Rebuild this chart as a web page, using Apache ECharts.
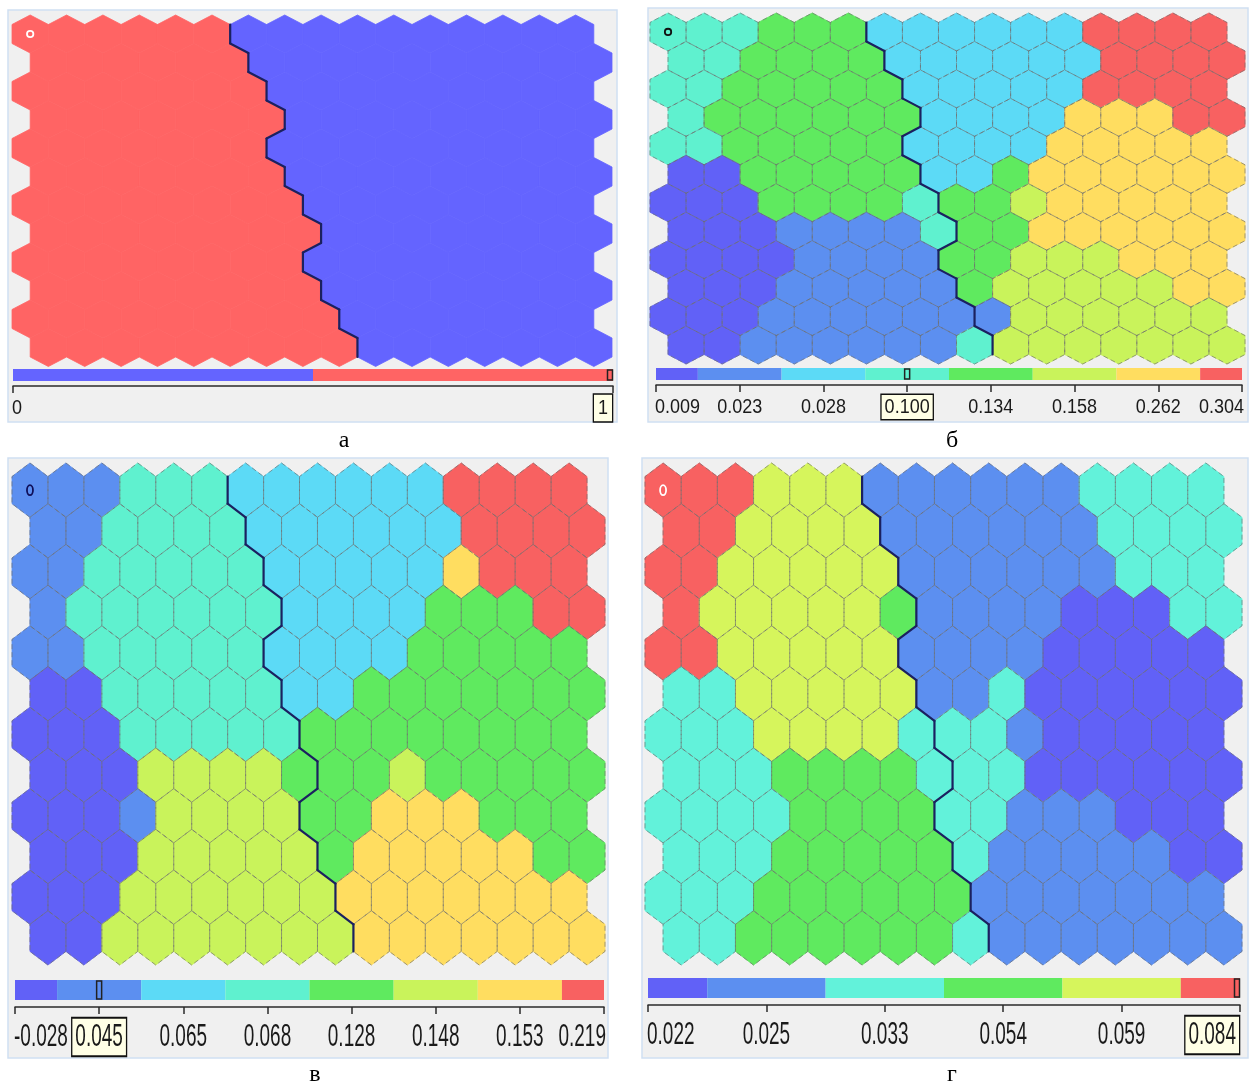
<!DOCTYPE html>
<html><head><meta charset="utf-8">
<script src="https://cdn.jsdelivr.net/npm/echarts@6/dist/echarts.min.js"></script>
<style>html,body{margin:0;padding:0;background:#fff}#c{width:1256px;height:1088px}</style>
</head><body><div id="c"></div><script>
// ---- DATA (12 rows x 16 columns, class index per hexagon) ----
const mapA = [
 "1111110000000000","1111110000000000","1111111000000000","1111111000000000",
 "1111111000000000","1111111000000000","1111111100000000","1111111100000000",
 "1111111100000000","1111111100000000","1111111110000000","1111111110000000"];
const mapB = [
 "3334442222227777","3344442222227777","3344444222227777","3444444222266677",
 "3344444222266666","0044444224666666","0004444344566666","0001111344666666",
 "0000111144555666","0001111145555566","0001111111555555","0011111135555555"];
const mapC = [
 "1113332222227777","1133332222227777","1133333222226777","1333333222244477",
 "1133333222244444","0033333224444444","0003333344444444","0005555444544444",
 "0001555544666444","0005555546666644","0005555556666666","0055555556666666"];
const mapD = [
 "5554441111112222","5544441111112222","5544444111111222","5444443111100022",
 "5544444111100000","2244444112000000","2224444222100000","2223333222000000",
 "2222333322111000","2223333321111100","2223333331111111","2233333321111111"];
const labelsA = ["0", "1"];
const labelsB = ["0.009","0.023","0.028","0.100","0.134","0.158","0.262","0.304"];
const labelsC = ["-0.028","0.045","0.065","0.068","0.128","0.148","0.153","0.219"];
const labelsD = ["0.022","0.025","0.033","0.054","0.059","0.084"];
const selA = 1, selB = 3, selC = 1, selD = 5;
const captions = ["а", "б", "в", "г"];

// ---- STYLE ----
const VIO='#6161f7', BLU='#5c8ff0', CYA='#5cdaf6', AQU='#5ff1cf', GRN='#5fea5f', YGR='#c9f35b', YEL='#ffdd60', RED='#f86161';
const colorsA = ['#6464ff', '#ff6464'];
const colorsB = [VIO,BLU,CYA,AQU,GRN,YGR,YEL,RED];
const colorsC = [VIO,BLU,CYA,AQU,GRN,YGR,YEL,RED];
const colorsD = [VIO,BLU,'#62f2da',GRN,'#d6f55c',RED];

const panels = [
 {map:mapA, colors:colorsA, labels:labelsA, sel:selA, dashed:false, ring:{c:'#ffffff',rx:3.2,ry:3.2},
  bg:[8,10,609,412], hex:{left:12,top:15,width:600,height:351.5},
  cb:{left:13,top:369,width:600,height:17,bar:0.3}, lab:{size:18,sy:1.15,dy:22,pad:[3,4,2,4]}, cap:[344,441]},
 {map:mapB, colors:colorsB, labels:labelsB, sel:selB, dashed:true, ring:{c:'#111111',rx:3.2,ry:3.2},
  bg:[648,8,600,414], hex:{left:650,top:13,width:595,height:351},
  cb:{left:656,top:368,width:586,height:17,bar:0.3}, lab:{size:18,sy:1.15,dy:22,pad:[2,3,1,3]}, cap:[952,441]},
 {map:mapC, colors:colorsC, labels:labelsC, sel:selC, dashed:true, ring:{c:'#10105a',rx:3,ry:5},
  bg:[8,458,600,600], hex:{left:12,top:463,width:593,height:502},
  cb:{left:15,top:980,width:589,height:27,bar:0.26}, lab:{size:19,sy:1.65,dy:30,pad:[2,3,1,3]}, cap:[315,1075]},
 {map:mapD, colors:colorsD, labels:labelsD, sel:selD, dashed:true, ring:{c:'#ffffff',rx:3,ry:5},
  bg:[642,458,606,600], hex:{left:645,top:463,width:597,height:502},
  cb:{left:648,top:978,width:592,height:27,bar:0.26}, lab:{size:19,sy:1.65,dy:30,pad:[2,3,1,3]}, cap:[952,1075]}
];

const HEX = [[0,-1],[0.5,-0.5],[0.5,0.5],[0,1],[-0.5,0.5],[-0.5,-0.5]];
const ROWS = mapA.length, COLS = mapA[0].length;
function hexPts(api, col, row){
  const cx = col + (row % 2) * 0.5, cy = row * 1.5;
  return HEX.map(v => api.coord([cx + v[0], cy + v[1]]));
}
function cellData(map){
  const d = [];
  for (let r = 0; r < map.length; r++) for (let c = 0; c < map[r].length; c++) d.push([c, r, +map[r][c]]);
  return d;
}

const grids = [], xAxes = [], yAxes = [], series = [], graphics = [];
panels.forEach((p, k) => {
  graphics.push({type:'rect', z:-10, shape:{x:p.bg[0], y:p.bg[1], width:p.bg[2], height:p.bg[3]},
    style:{fill:'#f0f0f0', stroke:'#cfdff2', lineWidth:1.5}});
  graphics.push({type:'text', x:p.cap[0], y:p.cap[1], style:{text:captions[k], font:'24px "Liberation Serif"', fill:'#000', align:'center', verticalAlign:'middle'}});
  const gi = grids.length;
  grids.push({left:p.hex.left, top:p.hex.top, width:p.hex.width, height:p.hex.height});
  xAxes.push({gridIndex:gi, type:'value', min:-0.5, max:COLS, show:false});
  yAxes.push({gridIndex:gi, type:'value', min:-1, max:(ROWS-1)*1.5+1, inverse:true, show:false});
  const data = cellData(p.map);
  // fills
  series.push({type:'custom', xAxisIndex:gi, yAxisIndex:gi, data, silent:true, animation:false,
    renderItem:(params, api) => {
      const col = api.value(0), row = api.value(1), cls = api.value(2);
      const col2 = p.colors[cls];
      return {type:'polygon', shape:{points:hexPts(api, col, row)}, style:{fill:col2, stroke:col2, lineWidth:0.8}};
    }});
  // dashed outlines
  if (p.dashed) series.push({type:'custom', xAxisIndex:gi, yAxisIndex:gi, data, silent:true, animation:false,
    renderItem:(params, api) => {
      const col = api.value(0), row = api.value(1);
      const pts = hexPts(api, col, row);
      return {type:'polygon', shape:{points:pts}, style:{fill:null, stroke:'rgba(110,110,110,0.65)', lineWidth:1, lineDash:[5,3]}};
    }});
  // cluster boundary (from the two-cluster map а) + ring marker
  series.push({type:'custom', xAxisIndex:gi, yAxisIndex:gi, data, silent:true, animation:false,
    renderItem:(params, api) => {
      const col = api.value(0), row = api.value(1);
      const pts = hexPts(api, col, row);
      const odd = row % 2;
      const nb = [[row, col+1, 1, 2], [row+1, odd ? col+1 : col, 2, 3], [row+1, odd ? col : col-1, 3, 4]];
      const ch = [];
      nb.forEach(n => {
        if (n[0] < ROWS && n[1] >= 0 && n[1] < COLS && mapA[n[0]][n[1]] !== mapA[row][col]) {
          ch.push({type:'line', shape:{x1:pts[n[2]][0], y1:pts[n[2]][1], x2:pts[n[3]][0], y2:pts[n[3]][1]},
            style:{stroke:'#1b2160', lineWidth:2.2, lineCap:'round'}});
        }
      });
      if (col === 0 && row === 0) {
        const c = api.coord([0, 0]);
        ch.push({type:'ellipse', shape:{cx:c[0], cy:c[1], rx:p.ring.rx, ry:p.ring.ry}, style:{fill:null, stroke:p.ring.c, lineWidth:1.8}});
      }
      return {type:'group', children:ch};
    }});
  // colour bar with its tick labels
  const ci = grids.length, n = p.labels.length;
  grids.push({left:p.cb.left, top:p.cb.top, width:p.cb.width, height:p.cb.height});
  xAxes.push({gridIndex:ci, type:'value', min:0, max:n-1, interval:1,
    axisLine:{show:true, onZero:false, lineStyle:{color:'#2a2a2a', width:1.5}},
    axisTick:{show:true, length:7, lineStyle:{color:'#2a2a2a', width:1.5}},
    splitLine:{show:false}, axisLabel:{show:false}});
  yAxes.push({gridIndex:ci, type:'value', min:0, max:1, show:false});
  series.push({type:'custom', xAxisIndex:ci, yAxisIndex:ci, silent:true, animation:false,
    data: p.labels.map((l, i) => [i, l]),
    renderItem:(params, api) => {
      const i = api.value(0);
      const a = api.coord([Math.max(i - 0.5, 0), 1]), b = api.coord([Math.min(i + 0.5, n - 1), p.cb.bar]);
      const ch = [{type:'rect', shape:{x:a[0], y:a[1], width:b[0]-a[0], height:b[1]-a[1]}, style:{fill:p.colors[i]}}];
      if (i === p.sel) {
        const m = api.coord([i, 1]), m2 = api.coord([i, p.cb.bar]);
        const x = Math.min(Math.max(m[0], p.cb.left + 3), p.cb.left + p.cb.width - 3);
        ch.push({type:'rect', shape:{x:x-2.5, y:m[1]+1, width:5, height:m2[1]-m[1]-2}, style:{fill:null, stroke:'#222', lineWidth:1.5}});
      }
      const t = api.coord([i, 0]);
      const sel = i === p.sel;
      const align = i === 0 ? 'left' : (i === n - 1 ? 'right' : 'center');
      const style = {text:p.labels[i], x:0, y:0, align, verticalAlign:'middle', fill:'#1a1a1a',
        font: p.lab.size + 'px "Liberation Sans"'};
      if (sel) Object.assign(style, {backgroundColor:'#ffffe6', borderColor:'#111', borderWidth:1.3, padding:p.lab.pad});
      ch.push({type:'text', x:t[0] + (i === 0 ? -1 : (i === n - 1 ? (sel ? -1 : 2) : 0)), y:t[1] + p.lab.dy, scaleY:p.lab.sy, style});
      return {type:'group', children:ch};
    }});
});

const chart = echarts.init(document.getElementById('c'));
chart.setOption({animation:false, backgroundColor:'#ffffff', grid:grids, xAxis:xAxes, yAxis:yAxes, series, graphic:graphics});
</script></body></html>
